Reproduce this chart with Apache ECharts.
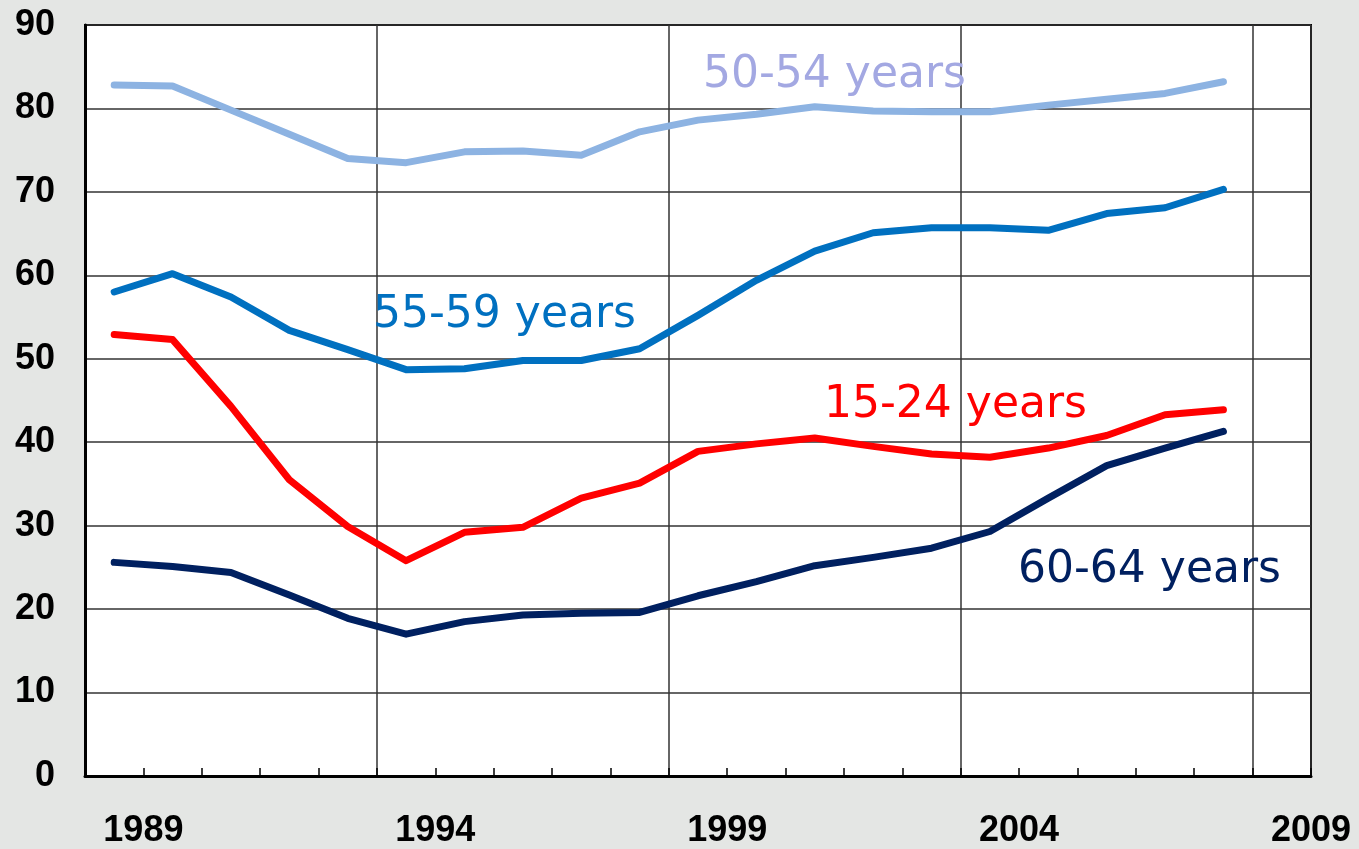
<!DOCTYPE html>
<html>
<head>
<meta charset="utf-8">
<script src="https://cdn.jsdelivr.net/npm/echarts@6/dist/echarts.min.js"></script>
<style>
  html, body { margin: 0; padding: 0; background: #e4e6e4; }
  #chart { width: 1359px; height: 849px; }
</style>
</head>
<body>
<div id="chart"></div>
<script>
// years on the plotting axis (last band stays empty)
var years = ['1988', '1989', '1990', '1991', '1992', '1993', '1994', '1995', '1996', '1997',
  '1998', '1999', '2000', '2001', '2002', '2003', '2004', '2005', '2006', '2007', '2008'];
// tick label axis, one more point so 2009 sits on the right edge
var labelYears = ['1988', '1989', '1990', '1991', '1992', '1993', '1994', '1995', '1996', '1997',
  '1998', '1999', '2000', '2001', '2002', '2003', '2004', '2005', '2006', '2007', '2008', '2009'];

var age5054 = [82.8, 82.7, 79.8, 76.9, 74.0, 73.5, 74.8, 74.9, 74.4, 77.2,
  78.6, 79.3, 80.2, 79.7, 79.6, 79.6, 80.4, 81.1, 81.8, 83.2];
var age5559 = [58.0, 60.2, 57.4, 53.4, 51.1, 48.7, 48.8, 49.8, 49.8, 51.2,
  55.2, 59.4, 62.9, 65.1, 65.7, 65.7, 65.4, 67.4, 68.1, 70.3];
var age1524 = [52.9, 52.3, 44.3, 35.5, 29.9, 25.8, 29.2, 29.8, 33.3, 35.1,
  38.9, 39.8, 40.5, 39.5, 38.6, 38.2, 39.3, 40.8, 43.3, 43.9];
var age6064 = [25.6, 25.1, 24.4, 21.7, 18.9, 17.0, 18.5, 19.3, 19.5, 19.6,
  21.6, 23.3, 25.2, 26.2, 27.3, 29.3, 33.3, 37.2, 39.3, 41.3];

var myChart = echarts.init(document.getElementById('chart'));

function lineSeries(name, data, color) {
  return {
    name: name,
    type: 'line',
    xAxisIndex: 0,
    data: data,
    symbol: 'none',
    lineStyle: { color: color, width: 7, cap: 'round', join: 'round' },
    itemStyle: { color: color },
    z: 3
  };
}

var labelFont = '44px "DejaVu Sans", sans-serif';

var option = {
  backgroundColor: '#e4e6e4',
  animation: false,
  grid: {
    left: 85, right: 48, top: 25, bottom: 71,
    show: true,
    backgroundColor: '#ffffff',
    borderColor: '#000',
    borderWidth: 2
  },
  xAxis: [{
    type: 'category',
    data: years,
    boundaryGap: true,
    axisLine: { show: true, lineStyle: { color: '#000', width: 3 } },
    axisTick: { show: true, inside: true, length: 8, interval: 0, lineStyle: { color: '#000', width: 1.5 } },
    axisLabel: { show: false },
    splitLine: { show: true, interval: 4, lineStyle: { color: '#333', width: 1.5 } }
  }, {
    type: 'category',
    data: labelYears,
    boundaryGap: false,
    position: 'bottom',
    axisLine: { show: false },
    axisTick: { show: false },
    splitLine: { show: false },
    axisLabel: {
      interval: function (index) { return index % 5 === 1; },
      color: '#000',
      fontFamily: '"Liberation Sans", Arial, sans-serif',
      fontWeight: 'bold',
      fontSize: 36,
      margin: 37
    }
  }],
  yAxis: {
    type: 'value',
    min: 0,
    max: 90,
    interval: 10,
    axisLine: { show: true, lineStyle: { color: '#000', width: 3 } },
    axisTick: { show: false },
    axisLabel: {
      color: '#000',
      fontFamily: '"Liberation Sans", Arial, sans-serif',
      fontWeight: 'bold',
      fontSize: 36,
      margin: 30
    },
    splitLine: { show: true, lineStyle: { color: '#333', width: 1.5 } }
  },
  series: [
    lineSeries('50-54 years', age5054, '#8db3e2'),
    lineSeries('55-59 years', age5559, '#0070c0'),
    lineSeries('15-24 years', age1524, '#ff0000'),
    lineSeries('60-64 years', age6064, '#002060')
  ],
  graphic: [
    { type: 'text', x: 703, y: 76, z: 10, style: { text: '50-54 years', fill: '#a3a8e2', font: labelFont, textAlign: 'left', textVerticalAlign: 'middle' } },
    { type: 'text', x: 373, y: 316, z: 10, style: { text: '55-59 years', fill: '#0070c0', font: labelFont, textAlign: 'left', textVerticalAlign: 'middle' } },
    { type: 'text', x: 824, y: 406, z: 10, style: { text: '15-24 years', fill: '#ff0000', font: labelFont, textAlign: 'left', textVerticalAlign: 'middle' } },
    { type: 'text', x: 1018, y: 571, z: 10, style: { text: '60-64 years', fill: '#002060', font: labelFont, textAlign: 'left', textVerticalAlign: 'middle' } }
  ]
};

myChart.setOption(option);
window.addEventListener('resize', function () {
  myChart.resize();
});
</script>
</body>
</html>
